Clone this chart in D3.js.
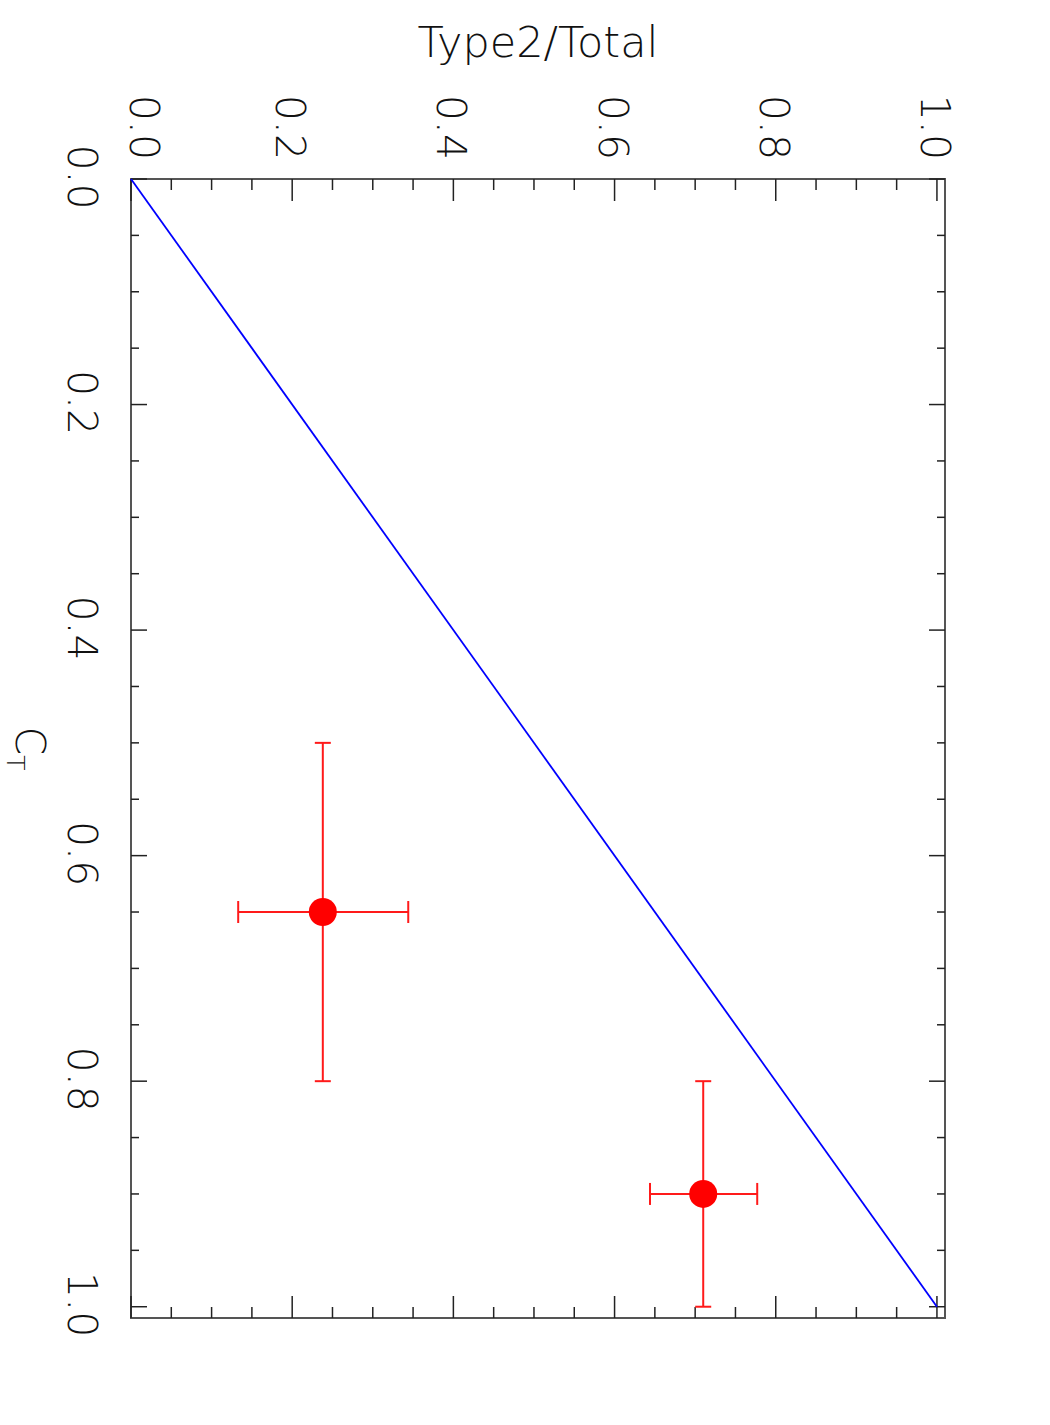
<!DOCTYPE html>
<html>
<head>
<meta charset="utf-8">
<script src="https://cdn.jsdelivr.net/npm/d3@7"></script>
<style>
  body { margin: 0; background: #fff; }
  text { font-family: "DejaVu Sans", sans-serif; font-weight: 200; fill: #111; }
</style>
</head>
<body>
<div id="chart"></div>
<script>
// data (plot is drawn rotated 90 degrees clockwise, like the original page)
const fracTicks = [0.0, 0.2, 0.4, 0.6, 0.8, 1.0];
const ctTicks = [0.0, 0.2, 0.4, 0.6, 0.8, 1.0];
const ctValues = [0.65, 0.90];
const ctLow = [0.50, 0.80];
const ctHigh = [0.80, 1.00];
const fracValues = [0.238, 0.710];
const fracLow = [0.133, 0.644];
const fracHigh = [0.344, 0.777];
const lineCt = [0.0, 1.0];
const lineFrac = [0.0, 1.0];

const svg = d3.select('#chart').append('svg').attr('width', 1050).attr('height', 1425);

const pLeft = 131, pRight = 945, pTop = 179, pBottom = 1318;
// Type2/Total runs left -> right, C_T runs top -> bottom
const xFrac = d3.scaleLinear().domain([0, 1.01]).range([pLeft, pRight]);
const yCt = d3.scaleLinear().domain([0, 1.01]).range([pTop, pBottom]);

// frame
svg.append('rect')
  .attr('x', pLeft).attr('y', pTop)
  .attr('width', pRight - pLeft).attr('height', pBottom - pTop)
  .attr('fill', 'none').attr('stroke', '#555').attr('stroke-width', 2);

// ticks on top and bottom (Type2/Total)
const fracMinor = d3.range(0, 21).map(i => i * 0.05);
fracMinor.forEach(function(v, i) {
  let len = (i % 4 === 0) ? 22 : 11;
  svg.append('line').attr('x1', xFrac(v)).attr('x2', xFrac(v))
    .attr('y1', pTop).attr('y2', pTop + len).attr('stroke', '#222').attr('stroke-width', 1.5);
  svg.append('line').attr('x1', xFrac(v)).attr('x2', xFrac(v))
    .attr('y1', pBottom).attr('y2', pBottom - len).attr('stroke', '#222').attr('stroke-width', 1.5);
});

// ticks on left and right (C_T)
const ctMinor = d3.range(0, 21).map(i => i * 0.05);
ctMinor.forEach(function(v, i) {
  let len = (i % 4 === 0) ? 16 : 8;
  svg.append('line').attr('y1', yCt(v)).attr('y2', yCt(v))
    .attr('x1', pLeft).attr('x2', pLeft + len).attr('stroke', '#222').attr('stroke-width', 1.5);
  svg.append('line').attr('y1', yCt(v)).attr('y2', yCt(v))
    .attr('x1', pRight).attr('x2', pRight - len).attr('stroke', '#222').attr('stroke-width', 1.5);
});

// top tick labels
svg.selectAll('.frac-label').data(fracTicks).enter().append('text')
  .attr('class', 'frac-label')
  .attr('transform', (d, i) => 'translate(' + (xFrac(d) - (i === 0 ? 1 : 16)) + ',160) rotate(90)')
  .attr('text-anchor', 'end')
  .attr('font-size', 41)
  .text(d => d.toFixed(1));

// left tick labels
svg.selectAll('.ct-label').data(ctTicks).enter().append('text')
  .attr('class', 'ct-label')
  .attr('transform', d => 'translate(68,' + (yCt(d) - 2) + ') rotate(90)')
  .attr('text-anchor', 'middle')
  .attr('font-size', 41)
  .text(d => d.toFixed(1));

// axis titles
svg.append('text')
  .attr('x', (pLeft + pRight) / 2).attr('y', 57)
  .attr('text-anchor', 'middle')
  .attr('font-size', 43)
  .text('Type2/Total');

const ctTitle = svg.append('text')
  .attr('transform', 'translate(16,' + ((pTop + pBottom) / 2) + ') rotate(90)')
  .attr('text-anchor', 'middle')
  .attr('font-size', 41);
ctTitle.append('tspan').text('C');
ctTitle.append('tspan').attr('font-size', 25).attr('dy', 9).text('T');

// one-to-one line
svg.append('line')
  .attr('x1', xFrac(lineFrac[0])).attr('y1', yCt(lineCt[0]))
  .attr('x2', xFrac(lineFrac[1])).attr('y2', yCt(lineCt[1]))
  .attr('stroke', '#0000ff').attr('stroke-width', 1.8);

// error bars and points
const red = '#ff1a1a';
ctValues.forEach(function(c, i) {
  let cx = xFrac(fracValues[i]), cy = yCt(c);
  let g = svg.append('g').attr('stroke', red).attr('stroke-width', 2);
  g.append('line').attr('x1', cx).attr('x2', cx).attr('y1', yCt(ctLow[i])).attr('y2', yCt(ctHigh[i]));
  g.append('line').attr('x1', cx - 8).attr('x2', cx + 8).attr('y1', yCt(ctLow[i])).attr('y2', yCt(ctLow[i]));
  g.append('line').attr('x1', cx - 8).attr('x2', cx + 8).attr('y1', yCt(ctHigh[i])).attr('y2', yCt(ctHigh[i]));
  g.append('line').attr('y1', cy).attr('y2', cy).attr('x1', xFrac(fracLow[i])).attr('x2', xFrac(fracHigh[i]));
  g.append('line').attr('y1', cy - 11).attr('y2', cy + 11).attr('x1', xFrac(fracLow[i])).attr('x2', xFrac(fracLow[i]));
  g.append('line').attr('y1', cy - 11).attr('y2', cy + 11).attr('x1', xFrac(fracHigh[i])).attr('x2', xFrac(fracHigh[i]));
  svg.append('circle').attr('cx', cx).attr('cy', cy).attr('r', 14).attr('fill', '#ff0000');
});
</script>
</body>
</html>
